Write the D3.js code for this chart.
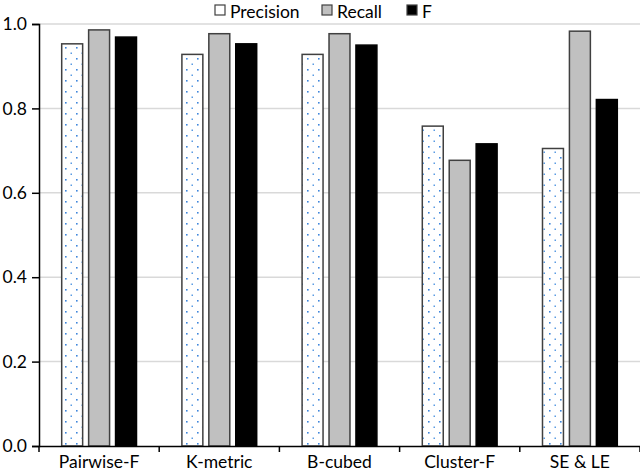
<!DOCTYPE html>
<html><head><meta charset="utf-8">
<script src="https://cdn.jsdelivr.net/npm/d3@7"></script>
<style>body{margin:0;background:#fff}svg{display:block}text{font-family:Lato,"Open Sans",sans-serif;fill:#000}</style>
</head><body><svg id="c" width="640" height="473"></svg>
<script>
const categories = ["Pairwise-F","K-metric","B-cubed","Cluster-F","SE & LE"];
const series = ["Precision","Recall","F"];
const precision = [0.953,0.928,0.928,0.758,0.705];
const recall = [0.986,0.977,0.977,0.677,0.983];
const fScore = [0.969,0.953,0.950,0.716,0.821];
const yTicks = [0,0.2,0.4,0.6,0.8,1.0];

const svg = d3.select("#c");
const m = {l:39, r:0, t:24, b:27};
const W = 640, H = 473;
const defs = svg.append("defs");
const pat = defs.append("pattern").attr("id","dots").attr("patternUnits","userSpaceOnUse")
  .attr("width",11).attr("height",11).attr("x",61).attr("y",2);
pat.append("rect").attr("width",11).attr("height",11).attr("fill","#fff");
pat.append("rect").attr("x",4).attr("y",1).attr("width",1.6).attr("height",1.6).attr("fill","#3f86dc");
pat.append("rect").attr("x",9.5).attr("y",6.5).attr("width",1.5).attr("height",1.5).attr("fill","#5a9be3");

const fills = {"Precision":"url(#dots)","Recall":"#c0c0c0","F":"#000"};
const strokes = {"Precision":"#404040","Recall":"#404040","F":"#000"};
const vals = {"Precision":precision,"Recall":recall,"F":fScore};

const x0 = d3.scaleBand().domain(categories).range([m.l, W-m.r]).padding(0);
const x1 = d3.scaleBand().domain(series).range([0, x0.bandwidth()]).paddingInner(0.222).paddingOuter(0.843);
const y = d3.scaleLinear().domain([0,1]).range([H-m.b, m.t]);

// gridlines
svg.append("g").selectAll("line").data(yTicks.filter(d=>d>0)).join("line")
  .attr("x1",m.l).attr("x2",W-m.r).attr("y1",d=>y(d)).attr("y2",d=>y(d))
  .attr("stroke","#d9d9d9").attr("stroke-width",1.5);

// bars
const g = svg.append("g");
categories.forEach((c,i)=>{
  series.forEach(s=>{
    g.append("rect").attr("x",x0(c)+x1(s)).attr("width",x1.bandwidth())
      .attr("y",y(vals[s][i])).attr("height",y(0)-y(vals[s][i]))
      .attr("fill",fills[s]).attr("stroke",strokes[s]).attr("stroke-width",1.5);
  });
});

// y axis
const ya = svg.append("g").attr("transform",`translate(${m.l},0)`)
  .call(d3.axisLeft(y).tickValues(yTicks).tickFormat(d3.format(".1f")).tickSize(7).tickPadding(5));
ya.select(".domain").attr("stroke","#000").attr("stroke-width",1.5);
ya.selectAll(".tick line").attr("stroke","#000").attr("stroke-width",1.5);
ya.selectAll("text").style("font-size","17.5px").attr("fill","#000");

// x axis
const xa = svg.append("g").attr("transform",`translate(0,${y(0)})`)
  .call(d3.axisBottom(x0).tickSize(0).tickPadding(10));
xa.select(".domain").attr("stroke","#000").attr("stroke-width",1.5);
xa.selectAll("text").style("font-size","17.5px").attr("fill","#000");
const bounds = categories.map(c=>x0(c)).concat([x0(categories[categories.length-1])+x0.bandwidth()]);
xa.append("g").selectAll("line").data(bounds).join("line")
  .attr("x1",d=>d).attr("x2",d=>d).attr("y1",0).attr("y2",6)
  .attr("stroke","#000").attr("stroke-width",1.5);

// legend
const legX = [215, 322, 407];
const lg = svg.append("g");
series.forEach((s,i)=>{
  lg.append("rect").attr("x",legX[i]).attr("y",5).attr("width",10).attr("height",10)
    .attr("fill", s==="Precision" ? "#fff" : fills[s]).attr("stroke","#404040").attr("stroke-width",1.2);
  lg.append("text").attr("x",legX[i]+15).attr("y",17.5).style("font-size","17.5px").text(s);
});
</script></body></html>
